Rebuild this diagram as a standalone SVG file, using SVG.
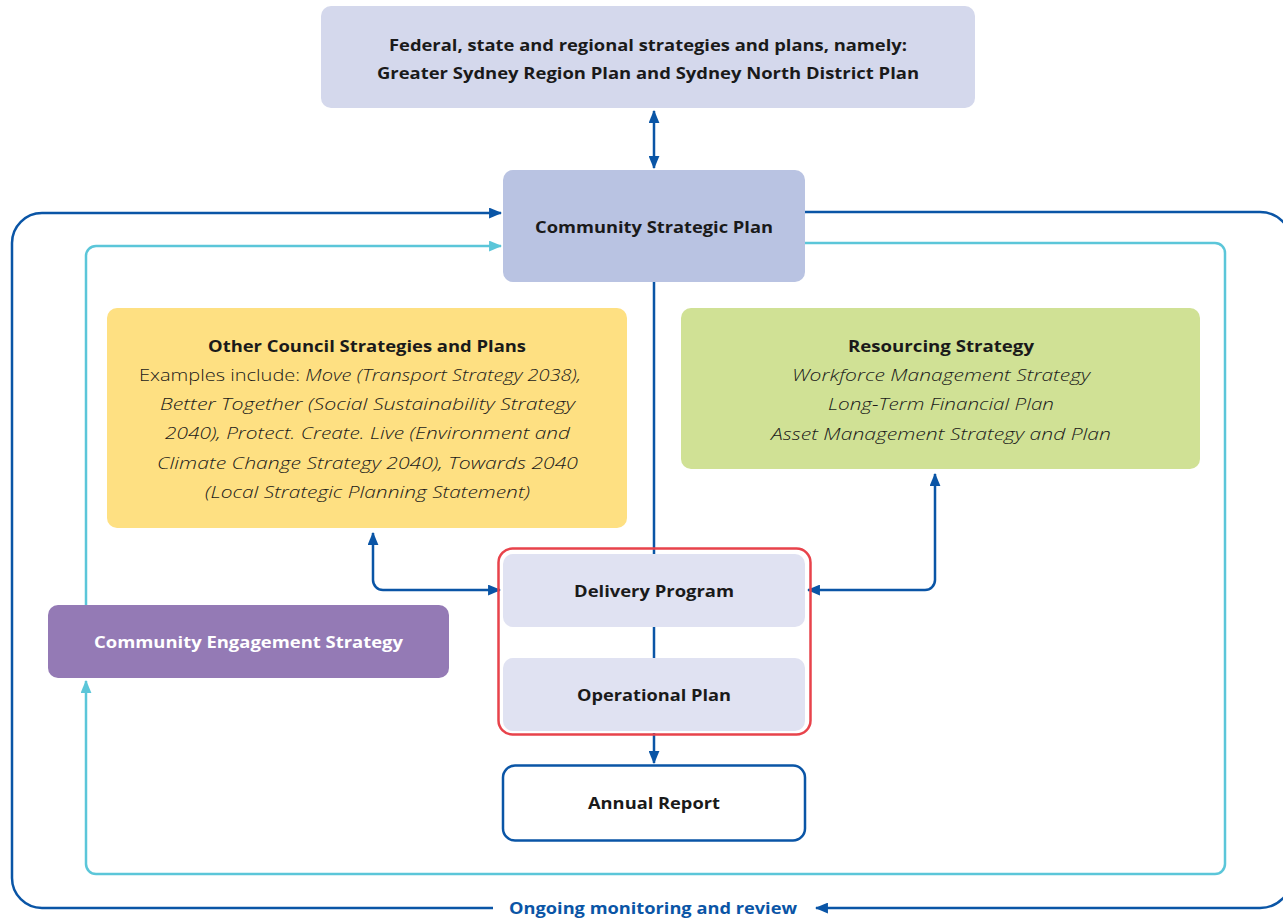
<svg xmlns="http://www.w3.org/2000/svg" width="1283" height="919" viewBox="0 0 1283 919">
<defs>
<style>
text{font-family:"Open Sans",Lato,"Liberation Sans",sans-serif;fill:#1a1a1a;text-anchor:middle}
.b{font-weight:700;font-size:16.5px}
.i{font-style:italic;font-size:16.5px;font-weight:300}
.r{font-size:16.5px;font-weight:300}
.dk{fill:none;stroke:#0a55a6;stroke-width:2.5}
.lt{fill:none;stroke:#5bc6d9;stroke-width:2.5}
</style>
<marker id="ad" viewBox="0 0 12 10" refX="11" refY="5" markerWidth="13" markerHeight="11" markerUnits="userSpaceOnUse" orient="auto-start-reverse"><path d="M0,0 L12,5 L0,10 Z" fill="#0a55a6"/></marker>
<marker id="al" viewBox="0 0 12 10" refX="11" refY="5" markerWidth="13" markerHeight="11" markerUnits="userSpaceOnUse" orient="auto-start-reverse"><path d="M0,0 L12,5 L0,10 Z" fill="#5bc6d9"/></marker>
</defs>
<rect width="1283" height="919" fill="#fff"/>
<g id="connectors">
<path class="dk" d="M805,212 H1260 A32,32 0 0 1 1292,244 V876 A32,32 0 0 1 1260,908 H816" marker-end="url(#ad)"/>
<path class="dk" d="M493,908 H42 A30,30 0 0 1 12,878 V243 A30,30 0 0 1 42,213 H501" marker-end="url(#ad)"/>
<path class="lt" d="M805,243 H1215 A10,10 0 0 1 1225,253 V864 A10,10 0 0 1 1215,874 H96 A10,10 0 0 1 86,864 V681" marker-end="url(#al)"/>
<path class="lt" d="M86,605 V256 A10,10 0 0 1 96,246 H501" marker-end="url(#al)"/>
<path class="dk" d="M654,111 V168" marker-start="url(#ad)" marker-end="url(#ad)"/>
<path class="dk" d="M654,282 V555"/>
<path class="dk" d="M654,627 V658"/>
<path class="dk" d="M654,733 V763" marker-end="url(#ad)"/>
<path class="dk" d="M373,533 V580 A10,10 0 0 0 383,590 H500" marker-start="url(#ad)" marker-end="url(#ad)"/>
<path class="dk" d="M935,474 V580 A10,10 0 0 1 925,590 H808" marker-start="url(#ad)" marker-end="url(#ad)"/>
</g>
<g id="federal">
<rect x="321" y="6" width="654" height="102" rx="10" fill="#d4d8ec"/>
<text class="b" x="648" y="51" textLength="518" lengthAdjust="spacingAndGlyphs">Federal, state and regional strategies and plans, namely:</text>
<text class="b" x="648" y="79" textLength="542" lengthAdjust="spacingAndGlyphs">Greater Sydney Region Plan and Sydney North District Plan</text>
</g>
<g id="csp">
<rect x="503" y="170" width="302" height="112" rx="10" fill="#b9c3e2"/>
<text class="b" x="654" y="233" textLength="238" lengthAdjust="spacingAndGlyphs">Community Strategic Plan</text>
</g>
<g id="other">
<rect x="107" y="308" width="520" height="220" rx="10" fill="#fee082"/>
<text class="b" x="367" y="352" textLength="318" lengthAdjust="spacingAndGlyphs">Other Council Strategies and Plans</text>
<text class="r" x="360" y="381" textLength="442" lengthAdjust="spacingAndGlyphs">Examples include: <tspan font-style="italic">Move (Transport Strategy 2038),</tspan></text>
<text class="i" x="367.5" y="410" textLength="415" lengthAdjust="spacingAndGlyphs">Better Together (Social Sustainability Strategy</text>
<text class="i" x="367.5" y="439" textLength="405" lengthAdjust="spacingAndGlyphs">2040), Protect. Create. Live (Environment and</text>
<text class="i" x="367.5" y="469" textLength="421" lengthAdjust="spacingAndGlyphs">Climate Change Strategy 2040), Towards 2040</text>
<text class="i" x="367.5" y="498" textLength="325" lengthAdjust="spacingAndGlyphs">(Local Strategic Planning Statement)</text>
</g>
<g id="resourcing">
<rect x="681" y="308" width="519" height="161" rx="10" fill="#d0e195"/>
<text class="b" x="941" y="352" textLength="186" lengthAdjust="spacingAndGlyphs">Resourcing Strategy</text>
<text class="i" x="941" y="381" textLength="298" lengthAdjust="spacingAndGlyphs">Workforce Management Strategy</text>
<text class="i" x="941" y="410" textLength="226" lengthAdjust="spacingAndGlyphs">Long-Term Financial Plan</text>
<text class="i" x="941" y="440" textLength="340" lengthAdjust="spacingAndGlyphs">Asset Management Strategy and Plan</text>
</g>
<g id="dp-op-group">
<rect x="498.5" y="548.5" width="312" height="186" rx="14" fill="none" stroke="#e8434b" stroke-width="2.5"/>
</g>
<g id="delivery">
<rect x="503" y="554" width="302" height="73" rx="10" fill="#e0e2f2"/>
<text class="b" x="654" y="597" textLength="160" lengthAdjust="spacingAndGlyphs">Delivery Program</text>
</g>
<g id="operational">
<rect x="503" y="658" width="302" height="73" rx="10" fill="#e0e2f2"/>
<text class="b" x="654" y="701" textLength="154" lengthAdjust="spacingAndGlyphs">Operational Plan</text>
</g>
<g id="ces">
<rect x="48" y="605" width="401" height="73" rx="10" fill="#947ab5"/>
<text class="b" x="248.5" y="648" style="fill:#fff" textLength="309" lengthAdjust="spacingAndGlyphs">Community Engagement Strategy</text>
</g>
<g id="annual">
<rect x="503" y="765.5" width="302" height="75" rx="12" fill="#fff" stroke="#0a55a6" stroke-width="2.5"/>
<text class="b" x="654" y="809" textLength="132" lengthAdjust="spacingAndGlyphs">Annual Report</text>
</g>
<g id="label">
<text class="b" x="653" y="914" style="fill:#0a55a6" textLength="288" lengthAdjust="spacingAndGlyphs">Ongoing monitoring and review</text>
</g>
</svg>
